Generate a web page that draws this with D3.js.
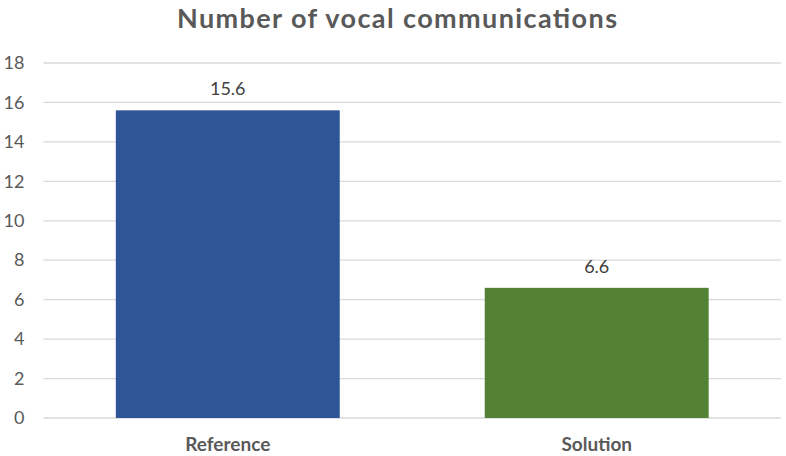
<!DOCTYPE html>
<html>
<head>
<meta charset="utf-8">
<script src="https://cdn.jsdelivr.net/npm/d3@7"></script>
<style>
  html, body { margin: 0; padding: 0; background: #fff; }
  svg { display: block; }
</style>
</head>
<body>
<svg id="chart" width="786" height="456"></svg>
<script>
const categories = ["Reference", "Solution"];
const values = [15.6, 6.6];
const barColors = ["#2F5597", "#548235"];
const yTicks = [0, 2, 4, 6, 8, 10, 12, 14, 16, 18];
const title = "Number of vocal communications";

const W = 786, H = 456;
const margin = { top: 63, right: 5, bottom: 38, left: 43.5 };
const svg = d3.select("#chart");
const font = "Lato, 'Open Sans', sans-serif";
const textColor = "#595959";

const x = d3.scaleBand().domain(categories).range([margin.left, W - margin.right]).paddingInner(0.393).paddingOuter(0.196);
const y = d3.scaleLinear().domain([0, 18]).range([H - margin.bottom, margin.top]);

// gridlines
svg.append("g").selectAll("line").data(yTicks).join("line")
  .attr("x1", margin.left).attr("x2", W - margin.right)
  .attr("y1", d => y(d)).attr("y2", d => y(d))
  .attr("stroke", "#d9d9d9").attr("stroke-width", 1.3);

// y axis labels
const yAxis = d3.axisLeft(y).tickValues(yTicks).tickSize(0).tickPadding(0);
const gy = svg.append("g").attr("transform", `translate(${margin.left - 19},0)`).call(yAxis);
gy.select(".domain").remove();
gy.selectAll("text").attr("font-family", font).attr("font-size", 18).attr("fill", textColor).attr("text-anchor", "end");

// bars
svg.append("g").selectAll("rect").data(values).join("rect")
  .attr("x", (d, i) => x(categories[i]))
  .attr("width", x.bandwidth())
  .attr("y", d => y(d))
  .attr("height", d => y(0) - y(d))
  .attr("fill", (d, i) => barColors[i]);

// value labels
svg.append("g").selectAll("text").data(values).join("text")
  .attr("x", (d, i) => x(categories[i]) + x.bandwidth() / 2)
  .attr("y", d => y(d) - 15)
  .attr("text-anchor", "middle")
  .attr("font-family", font).attr("font-size", 18).attr("fill", "#404040")
  .text(d => d.toFixed(1));

// x axis labels
const xAxis = d3.axisBottom(x).tickSize(0).tickPadding(0);
const gx = svg.append("g").attr("transform", `translate(0,${y(0) + 19})`).call(xAxis);
gx.select(".domain").remove();
gx.selectAll("text").attr("font-family", font).attr("font-size", 19).attr("font-weight", "bold").attr("fill", textColor).attr("dy", "0.71em");

// title
svg.append("text").attr("x", 397).attr("y", 27.5)
  .attr("text-anchor", "middle")
  .attr("font-family", font).attr("font-size", 27).attr("font-weight", "bold").attr("fill", textColor)
  .attr("textLength", 440).attr("lengthAdjust", "spacing")
  .text(title);
</script>
</body>
</html>
